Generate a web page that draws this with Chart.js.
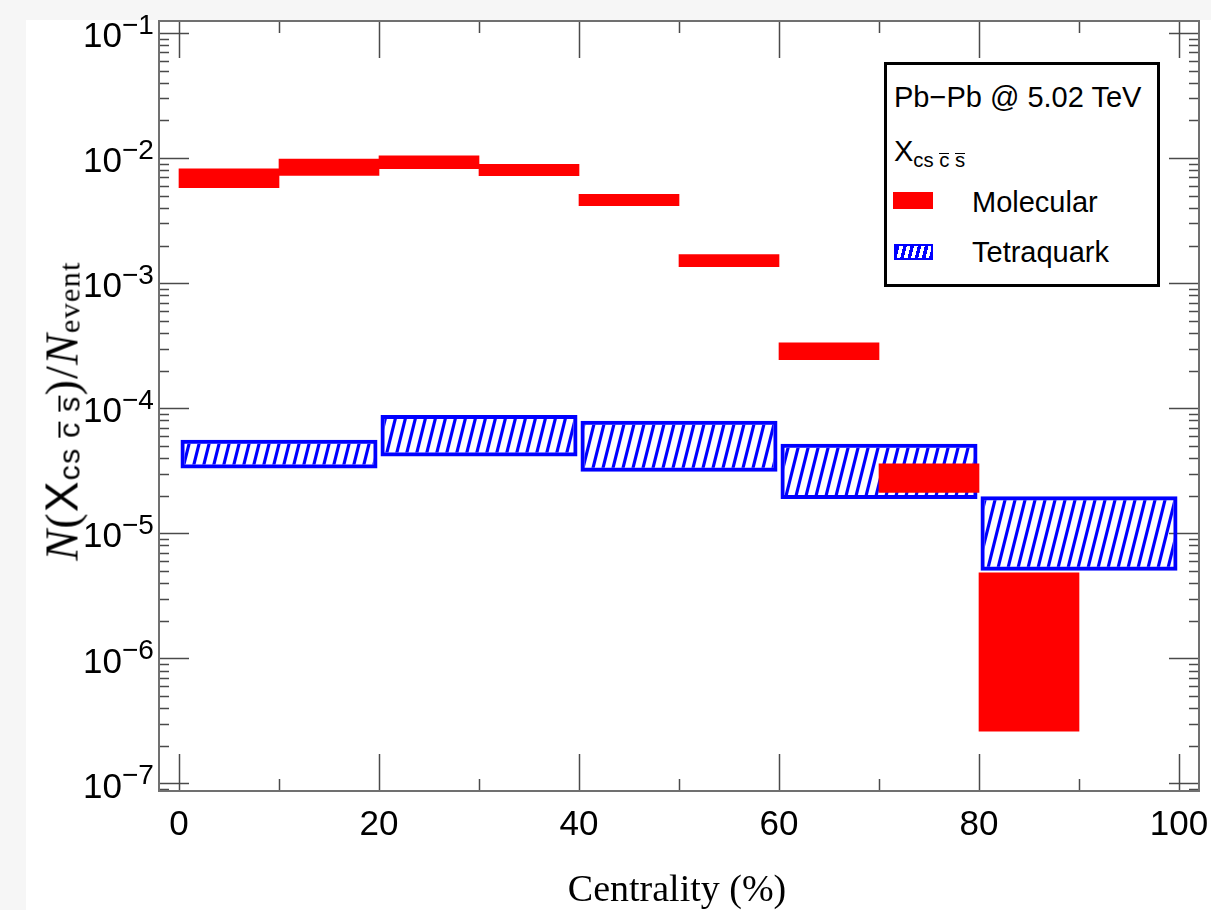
<!DOCTYPE html>
<html>
<head>
<meta charset="utf-8">
<script src="https://cdn.jsdelivr.net/npm/chart.js@4.4.1/dist/chart.umd.min.js"></script>
<style>
  html, body { margin: 0; padding: 0; background: #ffffff; overflow: hidden; width: 1211px; height: 910px; }
  #wrap { position: relative; width: 1211px; height: 910px; }
  .strip { position: absolute; background: #f6f6f6; }
  canvas { position: absolute; left: 0; top: 0; }
  .ov { position: absolute; white-space: nowrap; line-height: 1; color: #000; }
  .sans { font-family: 'Liberation Sans', Arial, Helvetica, sans-serif; }
  .serif { font-family: 'Liberation Serif', 'Times New Roman', serif; }
  .sb { position: relative; top: 0.28em; font-size: 0.66em; }
  .sbt { position: relative; top: 0.06em; font-size: 0.66em; }
  .ob { display: inline-block; border-top: 0.07em solid #000; line-height: 0.6; }
  #legendBox { position: absolute; left: 884px; top: 62px; width: 276px; height: 225px;
               border: 3px solid #000; box-sizing: border-box; background: #fff; }
  .sw { position: absolute; box-sizing: border-box; }
</style>
</head>
<body>
<div id="wrap">
  <div class="strip" style="left:0;top:0;width:26px;height:910px"></div>
  <div class="strip" style="left:0;top:0;width:1211px;height:20px"></div>
  <canvas id="c" width="1211" height="910"></canvas>

  <div id="legendBox"></div>
  <div class="ov sans" style="left:894px;top:83px;font-size:29px">Pb−Pb @ 5.02 TeV</div>
  <div class="ov sans" style="left:894px;top:137px;font-size:29px">X<span class="sb" style="font-size:0.7em">cs <span class="ob">c</span> <span class="ob">s</span></span></div>
  <div class="sw" style="left:893px;top:192px;width:40px;height:17px;background:#ff0000"></div>
  <div class="ov sans" style="left:972px;top:188px;font-size:29px">Molecular</div>
  <div class="sw" style="left:894px;top:244px;width:39px;height:16px;border:2.5px solid #0000ff;background:repeating-linear-gradient(104deg,#0000ff 0 3.5px,#ffffff 3.5px 7px)"></div>
  <div class="ov sans" style="left:972px;top:238px;font-size:29px">Tetraquark</div>

  <div class="ov serif" id="xtitle" style="left:677px;top:869px;font-size:38px;transform:translateX(-50%)">Centrality (%)</div>
  <div class="ov serif" id="ytitle" style="left:62px;top:411px;font-size:46px;letter-spacing:1.2px;transform:translate(-50%,-50%) rotate(-90deg)"><i>N</i>(<span class="sans">X</span><span class="sbt sans">cs <span class="ob">c</span> <span class="ob">s</span></span>)/<i>N</i><span class="sbt">event</span></div>
</div>

<script>
// ---------------- data ----------------
const molBinLow  = [0, 10, 20, 30, 40, 50, 60, 70, 80];
const molBinHigh = [10, 20, 30, 40, 50, 60, 70, 80, 90];
const molLow  = [5.86e-3, 7.35e-3, 8.3e-3, 7.3e-3, 4.2e-3, 1.37e-3, 2.47e-4, 2.14e-5, 2.65e-7];
const molHigh = [8.3e-3, 9.9e-3, 1.05e-2, 9.0e-3, 5.18e-3, 1.71e-3, 3.37e-4, 3.63e-5, 4.88e-6];

const tetBinLow  = [0, 20, 40, 60, 80];
const tetBinHigh = [20, 40, 60, 80, 100];
const tetLow  = [3.33e-5, 4.15e-5, 3.13e-5, 1.9e-5, 5.06e-6];
const tetHigh = [5.65e-5, 8.9e-5, 8.0e-5, 5.25e-5, 2.0e-5];

const xTickValues  = [0, 10, 20, 30, 40, 50, 60, 70, 80, 90, 100];
const xLabelValues = [0, 20, 40, 60, 80, 100];
const yLabelExponents = [-7, -6, -5, -4, -3, -2, -1];
const yDecadeExponents = [-8, -7, -6, -5, -4, -3, -2, -1];
const yMinorMultipliers = [1, 2, 3, 4, 5, 6, 7, 8, 9];
const xRange = [-2, 102];
const yRange = [8.79e-8, 0.1259];

// ---------------- helpers ----------------
const yTickValues = [];
yDecadeExponents.forEach(e => yMinorMultipliers.forEach(m => {
  const v = parseFloat(m + 'e' + e);
  if (v >= yRange[0] && v <= yRange[1]) yTickValues.push(v);
}));
const isDecade = v => Math.abs(Math.log10(v) - Math.round(Math.log10(v))) < 1e-6;

const hatch = (() => {
  const c = document.createElement('canvas');
  c.width = 10; c.height = 40;
  const g = c.getContext('2d');
  g.strokeStyle = '#0000ff';
  g.lineWidth = 3.2;
  for (const dx of [-10, 0, 10]) {
    g.beginPath();
    g.moveTo(dx - 2.5, 50);
    g.lineTo(dx + 12.5, -10);
    g.stroke();
  }
  return g.createPattern(c, 'repeat');
})();

const sansFamily = "'Liberation Sans', Arial, Helvetica, sans-serif";
const tickFontX = { family: sansFamily, size: 35 };
const tickFontY = { family: sansFamily, size: 35 };
const expFontSize = 28;
const tickColor = '#4a4a4a';
const frame = { display: true, color: '#707070', width: 2 };
const setTicks = vals => scale => { scale.ticks = vals.map(v => ({ value: v })); };
const fixBox = (w, h) => s => {
  if (w !== null) s.width = w;
  if (h !== null) s.height = h;
  s.paddingLeft = 0; s.paddingRight = 0; s.paddingTop = 0; s.paddingBottom = 0;
};

const xMajor = ctx => ctx.tick && xLabelValues.includes(ctx.tick.value);
const yMajor = ctx => ctx.tick && isDecade(ctx.tick.value);

// exponent of the decade labels (the "10" is the axis' own tick label)
const exponentPlugin = {
  id: 'decadeExponents',
  afterDraw(chart) {
    const s = chart.scales.y;
    const ctx = chart.ctx;
    ctx.save();
    ctx.font = expFontSize + 'px ' + sansFamily;
    ctx.fillStyle = '#000';
    ctx.textAlign = 'left';
    ctx.textBaseline = 'alphabetic';
    yLabelExponents.forEach(e => {
      const y = s.getPixelForValue(parseFloat('1e' + e));
      ctx.fillText('\u2212' + Math.abs(e), s.right - 37, y);
    });
    ctx.restore();
  }
};

new Chart(document.getElementById('c'), {
  type: 'bar',
  data: {
    datasets: [
      {
        label: 'Molecular',
        data: molBinLow.map((lo, i) => ({ x: (lo + molBinHigh[i]) / 2, y: [molLow[i], molHigh[i]] })),
        xAxisID: 'x', yAxisID: 'y',
        backgroundColor: '#ff0000', borderWidth: 0, grouped: false,
        barPercentage: 1, categoryPercentage: 1, order: 0
      },
      {
        label: 'Tetraquark',
        data: tetBinLow.map((lo, i) => ({ x: (lo + tetBinHigh[i]) / 2, y: [tetLow[i], tetHigh[i]] })),
        xAxisID: 'x2', yAxisID: 'y',
        backgroundColor: hatch, borderColor: '#0000ff', borderWidth: 4, borderSkipped: false, grouped: false,
        barPercentage: 0.985, categoryPercentage: 1, order: 1
      }
    ]
  },
  plugins: [exponentPlugin],
  options: {
    responsive: false,
    animation: false,
    devicePixelRatio: 1,
    layout: { padding: 0 },
    plugins: { legend: { display: false }, tooltip: { enabled: false } },
    scales: {
      x: {
        type: 'linear', position: 'bottom', min: xRange[0], max: xRange[1], offset: false,
        afterBuildTicks: setTicks(xTickValues),
        afterFit: fixBox(null, 119),
        grid: {
          offset: false, drawOnChartArea: false, drawTicks: true, tickLength: -37,
          tickColor: tickColor, tickWidth: 1.5,
          tickBorderDash: ctx => xMajor(ctx) ? [] : [13, 300]
        },
        border: frame,
        ticks: {
          autoSkip: false, maxRotation: 0, minRotation: 0, padding: 50, color: '#000', font: tickFontX,
          callback: v => xLabelValues.includes(v) ? String(v) : ''
        }
      },
      x2: {
        type: 'linear', display: false, min: xRange[0], max: xRange[1], offset: false,
        afterBuildTicks: setTicks([xRange[0], xRange[1]]),
        afterFit: fixBox(null, 0),
        grid: { offset: false }
      },
      xTop: {
        type: 'linear', position: 'top', min: xRange[0], max: xRange[1], offset: false,
        afterBuildTicks: setTicks(xTickValues),
        afterFit: fixBox(null, 21),
        grid: {
          offset: false, drawOnChartArea: false, drawTicks: true, tickLength: -37,
          tickColor: tickColor, tickWidth: 1.5,
          tickBorderDash: ctx => xMajor(ctx) ? [] : [0, 25, 13, 300]
        },
        border: frame,
        ticks: { display: false, autoSkip: false }
      },
      y: {
        type: 'logarithmic', position: 'left', min: yRange[0], max: yRange[1],
        afterBuildTicks: setTicks(yTickValues),
        afterFit: fixBox(159, null),
        grid: {
          drawOnChartArea: false, drawTicks: true, tickLength: -30,
          tickColor: tickColor, tickWidth: 1.5,
          tickBorderDash: ctx => yMajor(ctx) ? [] : [0, 20, 11, 300]
        },
        border: frame,
        ticks: {
          autoSkip: false, padding: 67, labelOffset: 4, color: '#000', font: tickFontY,
          callback: v => isDecade(v) ? '10' : ''
        }
      },
      yR: {
        type: 'logarithmic', position: 'right', min: yRange[0], max: yRange[1],
        afterBuildTicks: setTicks(yTickValues),
        afterFit: fixBox(12, null),
        grid: {
          drawOnChartArea: false, drawTicks: true, tickLength: -30,
          tickColor: tickColor, tickWidth: 1.5,
          tickBorderDash: ctx => yMajor(ctx) ? [] : [11, 300]
        },
        border: frame,
        ticks: { display: false, autoSkip: false }
      }
    }
  }
});
</script>
</body>
</html>
